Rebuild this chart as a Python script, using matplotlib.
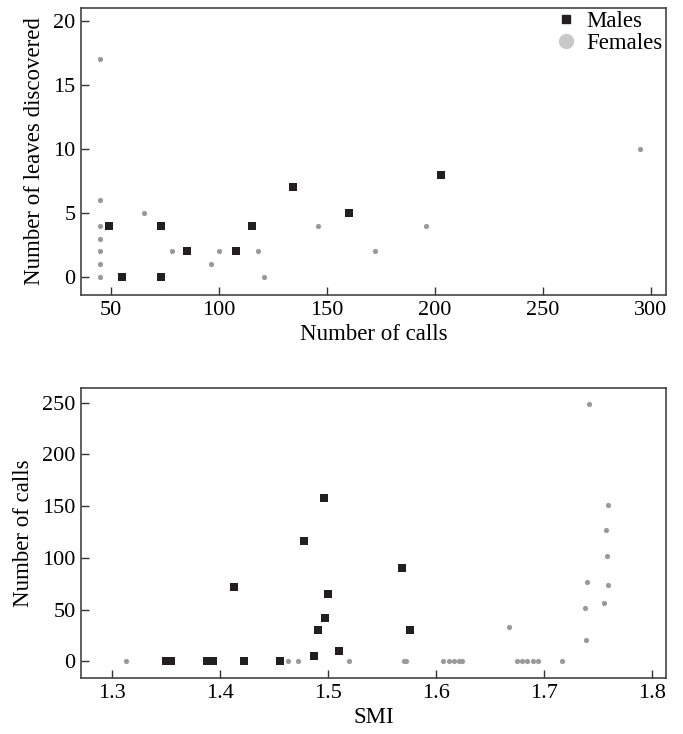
import numpy as np
import matplotlib.pyplot as plt
from matplotlib.lines import Line2D

plt.rcParams['font.family'] = ['Liberation Serif', 'DejaVu Serif']

# top panel: number of calls vs leaves discovered
male_calls = [49, 55, 73, 73, 85, 108, 115, 134, 160, 203]
male_leaves = [4, 0, 4, 0, 2, 2, 4, 7, 5, 8]
female_calls = [45, 45, 45, 45, 45, 45, 45, 65, 78, 96, 100, 118, 121, 146, 172, 196, 295]
female_leaves = [17, 6, 4, 3, 2, 1, 0, 5, 2, 1, 2, 2, 0, 4, 2, 4, 10]

# bottom panel: SMI vs number of calls
male_smi = [1.350, 1.354, 1.388, 1.393, 1.413, 1.422, 1.455, 1.478, 1.4865,
            1.491, 1.4957, 1.4967, 1.4994, 1.5096, 1.568, 1.576]
male_ncalls = [0, 0, 0, 0, 72, 0, 0, 116, 5, 30, 158, 42, 65, 10, 90, 30]
female_smi = [1.313, 1.463, 1.472, 1.519, 1.570, 1.572, 1.606, 1.612, 1.617,
              1.621, 1.624, 1.668, 1.675, 1.680, 1.684, 1.690, 1.694, 1.717,
              1.742, 1.759, 1.757, 1.758, 1.740, 1.759, 1.738, 1.756, 1.739]
female_ncalls = [0, 0, 0, 0, 0, 0, 0, 0, 0, 0, 0, 33, 0, 0, 0, 0, 0, 0,
                 249, 151, 127, 102, 77, 74, 52, 56, 21]

male_col = '#231f20'
fem_col = '#9a9a9a'
fs = 16.5   # axis labels
tfs = 16    # tick labels

fig = plt.figure(figsize=(6.83, 7.34), dpi=100)
ax1 = fig.add_axes([0.1186, 0.5981, 0.8565, 0.391])
ax2 = fig.add_axes([0.1186, 0.0763, 0.8565, 0.395])

ax1.scatter(female_calls, female_leaves, s=14, marker='o', color=fem_col, linewidths=0, zorder=3)
ax1.scatter(male_calls, male_leaves, s=30, marker='s', color=male_col, linewidths=0, zorder=3)
ax1.set_xlim(36, 307)
ax1.set_ylim(-1.4, 21)
ax1.set_xticks([50, 100, 150, 200, 250, 300])
ax1.set_yticks([0, 5, 10, 15, 20])
ax1.set_xlabel('Number of calls', fontsize=fs, labelpad=3)
ax1.set_ylabel('Number of leaves discovered', fontsize=fs, labelpad=6)

handles = [Line2D([], [], marker='s', color=male_col, linestyle='none', markersize=6),
           Line2D([], [], marker='o', color='#c8c8c8', linestyle='none', markersize=10)]
ax1.legend(handles, ['Males', 'Females'], loc='upper right', frameon=False, fontsize=fs,
           handletextpad=0.3, labelspacing=0.0, borderaxespad=0.1, borderpad=0.05,
           handlelength=1.2)

ax2.scatter(female_smi, female_ncalls, s=14, marker='o', color=fem_col, linewidths=0, zorder=3)
ax2.scatter(male_smi, male_ncalls, s=30, marker='s', color=male_col, linewidths=0, zorder=3)
ax2.set_xlim(1.271, 1.813)
ax2.set_ylim(-16, 264)
ax2.set_xticks([1.3, 1.4, 1.5, 1.6, 1.7, 1.8])
ax2.set_xticklabels(['1.3', '1.4', '1.5', '1.6', '1.7', '1.8'])
ax2.set_yticks([0, 50, 100, 150, 200, 250])
ax2.set_xlabel('SMI', fontsize=fs, labelpad=3)
ax2.set_ylabel('Number of calls', fontsize=fs, labelpad=6)

for ax in (ax1, ax2):
    ax.tick_params(direction='in', length=6, width=1, labelsize=tfs, color='#333333', pad=4)
    for sp in ax.spines.values():
        sp.set_color('#444444')
        sp.set_linewidth(1.2)

fig.savefig('out.png', dpi=100)
